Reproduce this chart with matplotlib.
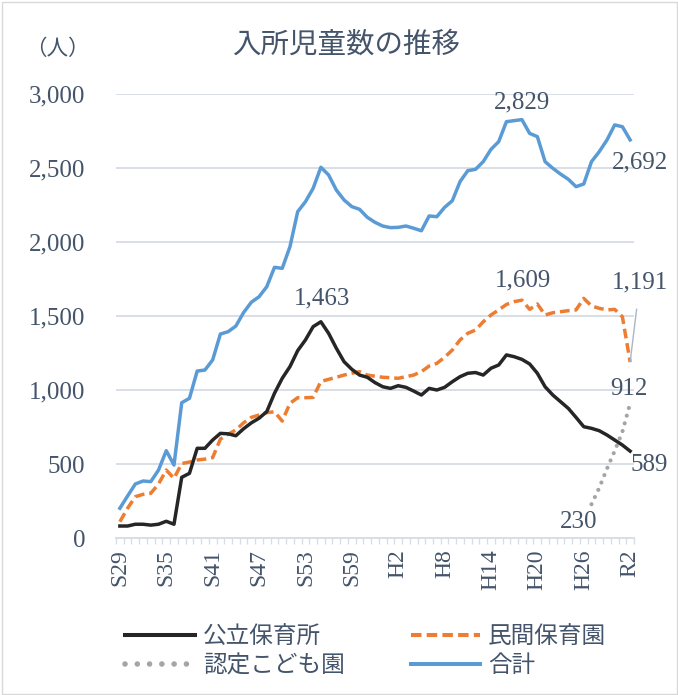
import matplotlib
matplotlib.use("Agg")
import matplotlib.pyplot as plt
from matplotlib.patches import Rectangle
from matplotlib.lines import Line2D
import numpy as np

plt.rcParams['font.family'] = ['Liberation Serif', 'Noto Sans CJK JP']

TEXT = '#44546A'

years = list(range(1954, 2021))
tick_years = [1954, 1960, 1966, 1972, 1978, 1984, 1990, 1996, 2002, 2008, 2014, 2020]
tick_labels = ['S29', 'S35', 'S41', 'S47', 'S53', 'S59', 'H2', 'H8', 'H14', 'H20', 'H26', 'R2']

public = [83, 83, 95, 95, 89, 95, 115, 95, 412, 439, 608, 608, 664, 709, 706, 693, 740, 780,
          811, 856, 980, 1081, 1160, 1268, 1340, 1430, 1463, 1385, 1284, 1193, 1142, 1103, 1088,
          1052, 1024, 1013, 1031, 1020, 995, 968, 1013, 1002, 1020, 1058, 1092, 1115, 1120, 1103,
          1149, 1171, 1239, 1227, 1209, 1178, 1115, 1024, 968, 923, 878, 817, 754, 743, 727, 698,
          664, 630, 589]
private = [112, 203, 281, 297, 304, 367, 461, 405, 505, 515, 529, 535, 545, 670, 703, 732, 780,
           817, 833, 849, 855, 792, 912, 950, 950, 952, 1060, 1074, 1088, 1103, 1115, 1126, 1103,
           1095, 1088, 1085, 1081, 1092, 1103, 1126, 1164, 1182, 1223, 1272, 1340, 1385, 1407,
           1463, 1509, 1543, 1580, 1599, 1609, 1547, 1583, 1509, 1524, 1531, 1538, 1543, 1621,
           1570, 1554, 1543, 1547, 1497, 1191]
total = [203, 286, 367, 387, 383, 461, 592, 495, 916, 946, 1130, 1137, 1205, 1380, 1396, 1434,
         1525, 1595, 1632, 1700, 1831, 1824, 1970, 2207, 2274, 2365, 2507, 2455, 2353, 2286, 2241,
         2223, 2169, 2135, 2110, 2099, 2101, 2110, 2095, 2078, 2178, 2173, 2236, 2281, 2410, 2484,
         2493, 2545, 2628, 2680, 2815, 2822, 2829, 2736, 2714, 2545, 2500, 2461, 2426, 2376, 2394,
         2545, 2612, 2691, 2793, 2781, 2692]
nintei_years = [2015, 2016, 2017, 2018, 2019, 2020]
nintei = [230, 340, 470, 590, 720, 912]

names = ['公立保育所', '民間保育園', '認定こども園', '合計']
colors = ['#262626', '#ED7D31', '#A5A5A5', '#5B9BD5']

fig = plt.figure(figsize=(6.78, 6.95), dpi=100)
ax = fig.add_axes([116 / 678, 1 - 538.3 / 695, (634 - 116) / 678, (538.3 - 94.3) / 695])

lw = 2.5
ax.plot(years, public, color=colors[0], lw=lw, solid_joinstyle='round', zorder=4)
ax.plot(years, private, color=colors[1], lw=lw, dashes=(2.8, 1.4), zorder=3)
ax.plot(nintei_years, nintei, color=colors[2], lw=3.0, linestyle=(0, (0.01, 1.9)),
        dash_capstyle='round', zorder=3)
ax.plot(years, total, color=colors[3], lw=lw, solid_joinstyle='round', zorder=3)

ax.set_xlim(years[0] - 0.5, years[-1] + 0.5)
ax.set_ylim(0, 3000)
ax.set_yticks(np.arange(0, 3001, 500))
ax.set_yticklabels([f'{v:,}' for v in range(0, 3001, 500)])
ax.set_xticks(tick_years)
ax.set_xticklabels(tick_labels, rotation=90)
ax.set_xticks(np.arange(years[0] - 0.5, years[-1] + 1.0, 1.0), minor=True)

ax.grid(axis='y', color='#D9DEE6', lw=1.4, zorder=0)
ax.set_axisbelow(True)
for s in ['top', 'left', 'right']:
    ax.spines[s].set_visible(False)
ax.spines['bottom'].set_color('#D9DEE6')
ax.spines['bottom'].set_linewidth(1.4)

ax.tick_params(axis='y', length=0, pad=22, labelsize=18, labelcolor=TEXT)
ax.tick_params(axis='x', which='major', length=0, pad=8, labelsize=17, labelcolor=TEXT)
ax.tick_params(axis='x', which='minor', length=4, width=1.0, color='#D9DEE6', direction='out')

lab_kw = dict(textcoords='offset points', ha='center', va='center', fontsize=18, color=TEXT)
i_pub = int(np.argmax(public))
ax.annotate(f'{public[i_pub]:,}', (years[i_pub], public[i_pub]), xytext=(1, 17), **lab_kw)
i_tot = int(np.argmax(total))
ax.annotate(f'{total[i_tot]:,}', (years[i_tot], total[i_tot]), xytext=(0, 12), **lab_kw)
i_pri = int(np.argmax(private[:55]))
ax.annotate(f'{private[i_pri]:,}', (years[i_pri], private[i_pri]), xytext=(1, 14), **lab_kw)
ax.annotate(f'{total[-1]:,}', (years[-1], total[-1]), xytext=(7, -16), **lab_kw)
ax.annotate(f'{private[-1]:,}', (years[-1], private[-1]), xytext=(7, 57),
            arrowprops=dict(arrowstyle='-', color='#A9B6C8', lw=1.0, shrinkA=9, shrinkB=0),
            **lab_kw)
ax.annotate(f'{nintei[-1]:,}', (nintei_years[-1], nintei[-1]), xytext=(-1, 10), **lab_kw)
ax.annotate(f'{public[-1]:,}', (years[-1], public[-1]), xytext=(14, -10), **lab_kw)
ax.annotate(f'{nintei[0]:,}', (nintei_years[0], nintei[0]), xytext=(-9, -13), **lab_kw)

fig.text(346 / 678, 1 - 45 / 695, '入所児童数の推移', ha='center', va='center',
         fontsize=20.5, color=TEXT)
fig.text(57 / 678, 1 - 50 / 695, '（人）', ha='center', va='center', fontsize=15.5, color=TEXT)

handles = [
    Line2D([], [], color=colors[0], lw=lw + 0.4),
    Line2D([], [], color=colors[2], lw=4.0, linestyle=(0, (0.01, 2.2)),
           dash_capstyle='round'),
    Line2D([], [], color=colors[1], lw=lw + 0.4, dashes=(2.6, 1.3)),
    Line2D([], [], color=colors[3], lw=lw + 0.4),
]
labels = [names[0], names[2], names[1], names[3]]
leg = fig.legend(handles, labels, ncol=2, loc='center left',
                 bbox_to_anchor=(125 / 678, 1 - 652 / 695), frameon=False,
                 fontsize=17, handlelength=2.95, handletextpad=0.34, columnspacing=2.8,
                 labelspacing=0.3, borderpad=0, borderaxespad=0)
for t in leg.get_texts():
    t.set_color(TEXT)

fig.patches.append(Rectangle((1.5 / 678, 1.5 / 695), 675 / 678, 692 / 695,
                             transform=fig.transFigure, fill=False,
                             edgecolor='#D9D9D9', lw=1.0))

fig.savefig('out.png', dpi=100)
